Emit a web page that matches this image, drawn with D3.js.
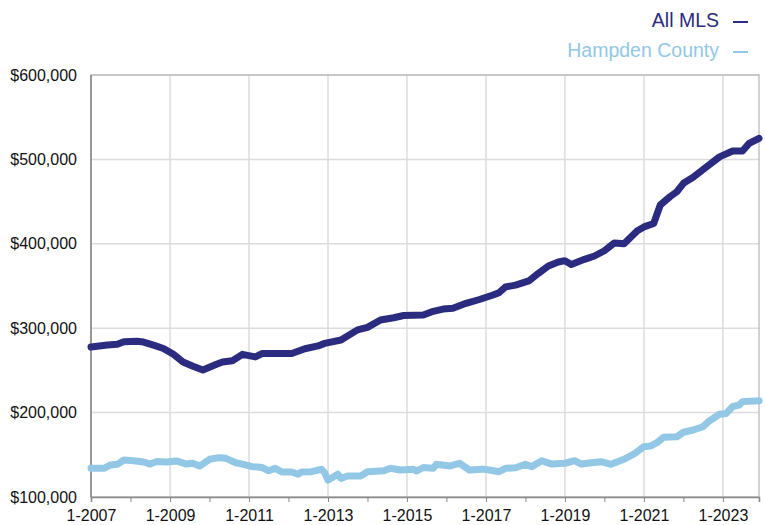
<!DOCTYPE html>
<html>
<head>
<meta charset="utf-8">
<script src="https://cdn.jsdelivr.net/npm/d3@7"></script>
<style>
  body { margin: 0; background: #fff; }
  text { font-family: "Liberation Sans", Arial, Helvetica, sans-serif; }
</style>
</head>
<body>
<div class="chart"></div>
<script>
// series names and colours
const series_names = ["All MLS", "Hampden County"]
const series_colors = ["#2b2c7f", "#92c8e5"]

// All MLS, rolling median price (month label, value)
const mls_dates = ["1-2007","6-2007","9-2007","11-2007","3-2008","5-2008","8-2008","11-2008",
  "2-2009","5-2009","8-2009","11-2009","3-2010","5-2010","8-2010","11-2010","3-2011","5-2011",
  "2-2012","6-2012","10-2012","12-2012","5-2013","10-2013","1-2014","5-2014","9-2014","12-2014",
  "6-2015","9-2015","12-2015","3-2016","7-2016","11-2016","3-2017","5-2017","7-2017","10-2017",
  "2-2018","5-2018","8-2018","11-2018","1-2019","3-2019","7-2019","10-2019","1-2020","4-2020",
  "7-2020","11-2020","1-2021","4-2021","6-2021","9-2021","11-2021","1-2022","4-2022","8-2022",
  "11-2022","12-2022","4-2023","7-2023","9-2023","12-2023"]
const mls_values = [277700,280000,281000,284000,284500,283600,280000,276000,
  269000,260000,255000,250500,257000,260000,261500,269000,266000,270000,
  270000,275700,279000,282000,286000,298000,301000,309700,312400,315000,
  315600,320000,322700,323600,329500,334000,339000,342000,349000,351000,
  356000,365000,373700,378400,380000,375500,381600,385500,391800,401000,
  400000,415500,420000,424000,446000,456000,461700,471700,478800,491000,
  500000,503000,510000,510000,519000,525000]

// Hampden County
const hampden_dates = ["1-2007","5-2007","7-2007","9-2007","11-2007","2-2008","5-2008","7-2008",
  "9-2008","12-2008","3-2009","6-2009","8-2009","10-2009","1-2010","4-2010","6-2010","9-2010",
  "11-2010","2-2011","5-2011","7-2011","9-2011","11-2011","2-2012","4-2012","5-2012","8-2012",
  "11-2012","12-2012","1-2013","4-2013","5-2013","7-2013","11-2013","1-2014","6-2014","8-2014",
  "11-2014","3-2015","4-2015","6-2015","9-2015","10-2015","2-2016","5-2016","8-2016","12-2016",
  "2-2017","5-2017","7-2017","10-2017","1-2018","3-2018","6-2018","9-2018","1-2019","4-2019",
  "6-2019","9-2019","12-2019","3-2020","7-2020","10-2020","1-2021","3-2021","5-2021","7-2021",
  "11-2021","1-2022","4-2022","7-2022","9-2022","12-2022","2-2023","4-2023","6-2023","7-2023","12-2023"]
const hampden_values = [134000,134000,138000,138700,143800,143000,141500,139000,
  142000,141500,142700,139000,140000,136700,144700,146600,145800,140600,
  139000,136000,135000,131000,134000,129600,129600,127000,129600,130000,
  132800,128800,120000,127000,122000,125000,125000,130000,131000,134000,
  132000,132800,130800,135000,134000,138700,136700,140000,132000,133000,
  132000,130000,134000,134700,138700,136000,143000,139000,140000,143000,
  139000,140600,141800,138700,144700,151000,159600,160400,164300,170700,
  171400,176700,179400,183300,190400,198000,199000,207000,209000,213000,214000]

// axis ticks
const y_ticks = [100000, 200000, 300000, 400000, 500000, 600000]
const x_label_years = [2007, 2009, 2011, 2013, 2015, 2017, 2019, 2021, 2023]

const chart_param = {
    width: 765,
    height: 525,
    margin: { top: 75, right: 6, bottom: 28, left: 91 }
}

const parse = d3.timeParse("%m-%Y")
const to_points = (dates, values) => dates.map((d, i) => ({ date: parse(d), value: values[i] }))
const lines_data = [to_points(mls_dates, mls_values), to_points(hampden_dates, hampden_values)]

const x = d3.scaleTime()
            .domain([parse("1-2007"), parse("12-2023")])
            .range([chart_param.margin.left, chart_param.width - chart_param.margin.right])
const y = d3.scaleLinear()
            .domain([100000, 600000])
            .range([chart_param.height - chart_param.margin.bottom, chart_param.margin.top])

const svg = d3.select(".chart").append("svg")
    .attr("width", chart_param.width)
    .attr("height", chart_param.height)

const x0 = x.range()[0], x1 = x.range()[1]
const y0 = y.range()[0], y1 = y.range()[1]

// horizontal grid
svg.selectAll(".hgrid")
  .data(y_ticks).enter()
  .append("line")
  .attr("x1", x0).attr("x2", x1)
  .attr("y1", d => y(d)).attr("y2", d => y(d))
  .style("stroke", "#dcdcdc").style("stroke-width", 1.5)

// vertical grid every two years
svg.selectAll(".vgrid")
  .data(x_label_years.slice(1)).enter()
  .append("line")
  .attr("x1", d => x(new Date(d, 0, 1))).attr("x2", d => x(new Date(d, 0, 1)))
  .attr("y1", y1).attr("y2", y0)
  .style("stroke", "#dcdcdc").style("stroke-width", 1.5)

// frame
svg.append("rect")
  .attr("x", x0).attr("y", y1)
  .attr("width", x1 - x0).attr("height", y0 - y1)
  .style("fill", "none").style("stroke", "#b5b5b5").style("stroke-width", 1.2)
svg.append("line")
  .attr("x1", x0).attr("x2", x0).attr("y1", y1).attr("y2", y0)
  .style("stroke", "#8a8a8a").style("stroke-width", 1.6)

// x axis: yearly ticks, labels every two years
const x_axis = d3.axisBottom(x)
    .ticks(d3.timeYear.every(1))
    .tickSize(5)
    .tickFormat(d => x_label_years.includes(d.getFullYear()) ? "1-" + d.getFullYear() : "")
const gx = svg.append("g")
    .attr("transform", `translate(0,${y0})`)
    .call(x_axis)
gx.select(".domain").style("stroke", "#8a8a8a").style("stroke-width", 1.6)
gx.selectAll(".tick line").style("stroke", "#8a8a8a")
gx.selectAll(".tick text")
  .attr("dy", "1.0em")
  .style("font-size", "16px").style("fill", "#111")

// y axis labels
const y_axis = d3.axisLeft(y)
    .tickValues(y_ticks)
    .tickSize(0)
    .tickPadding(14)
    .tickFormat(d => "$" + d3.format(",")(d))
const gy = svg.append("g")
    .attr("transform", `translate(${x0},0)`)
    .call(y_axis)
gy.select(".domain").remove()
gy.selectAll(".tick text").style("font-size", "16px").style("fill", "#111")

// lines
const line = d3.line()
    .x(d => x(d.date))
    .y(d => y(d.value))

svg.selectAll(".series")
  .data(lines_data).enter()
  .append("path")
  .attr("d", line)
  .style("fill", "none")
  .style("stroke", (d, i) => series_colors[i])
  .style("stroke-width", 7)
  .style("stroke-linejoin", "round")
  .style("stroke-linecap", "round")

// legend, top right
const legend = svg.selectAll(".legend")
  .data(series_names).enter()
  .append("g")
  .attr("transform", (d, i) => `translate(748,${27 + i * 30})`)
legend.append("text")
  .attr("x", -29)
  .attr("text-anchor", "end")
  .style("font-size", "19.5px")
  .style("fill", (d, i) => series_colors[i])
  .text(d => d)
legend.append("line")
  .attr("x1", -15).attr("x2", 0)
  .attr("y1", -5).attr("y2", -5)
  .style("stroke", (d, i) => series_colors[i])
  .style("stroke-width", 2)
</script>
</body>
</html>
